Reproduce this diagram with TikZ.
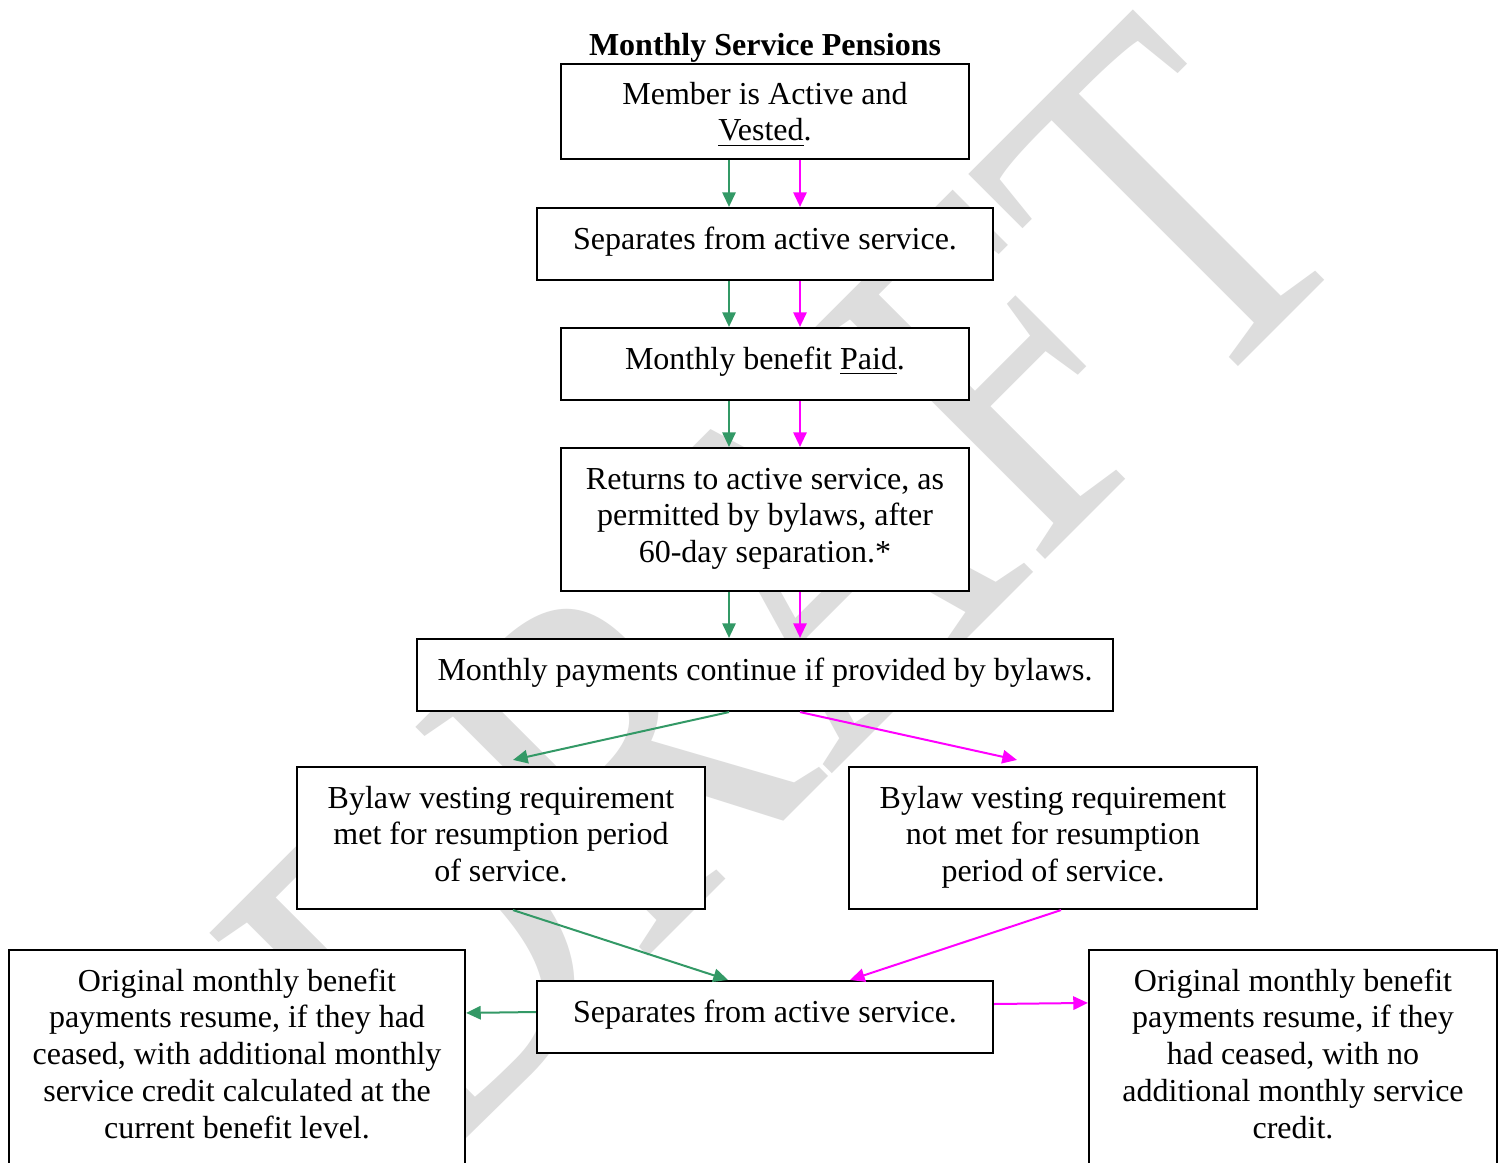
\documentclass[tikz,border=0pt]{standalone}
\usepackage{fontspec}
\setmainfont{Liberation Serif}
\usetikzlibrary{arrows.meta,calc}
\definecolor{sgreen}{RGB}{51,153,102}
\definecolor{mgnt}{RGB}{255,0,255}
\definecolor{wmgray}{RGB}{221,221,221}
\begin{document}
\begin{tikzpicture}[x=0.375pt,y=-0.375pt,
  box/.style={draw=black,fill=white,line width=0.8pt,inner sep=0pt},
  txt/.style={inner sep=0pt,align=center,font=\fontsize{12}{13.8}\selectfont},
  garr/.style={draw=sgreen,line width=0.75pt,-{Triangle[length=5.5pt,width=5pt,fill=sgreen]}},
  marr/.style={draw=mgnt,line width=0.75pt,-{Triangle[length=5.5pt,width=5pt,fill=mgnt]}},
  wmark/.style={text=wmgray,inner sep=0pt,font=\fontsize{187}{187}\selectfont,rotate=45}]
\useasboundingbox (0,0) rectangle (1504,1162);
\fill[white] (0,0) rectangle (1504,1162);
\node[wmark,anchor=base east] (wm) at (1369,236) {\scalebox{0.81}[1]{DRAFT}};

\node[txt,font=\fontsize{12}{13.8}\selectfont\bfseries,anchor=base] (title) at (765,56) {Monthly Service Pensions};

\node[box,minimum width=153pt,minimum height=35.6pt] (A) at (765,111.5) {};
\node[box,minimum width=171pt,minimum height=27pt] (B) at (765,244) {};
\node[box,minimum width=153pt,minimum height=27pt] (C) at (765,364) {};
\node[box,minimum width=153pt,minimum height=53.6pt] (D) at (765,519.5) {};
\node[box,minimum width=261pt,minimum height=27pt] (E) at (765,675) {};
\node[box,minimum width=153pt,minimum height=53.25pt] (F) at (501,838) {};
\node[box,minimum width=153pt,minimum height=53.25pt] (G) at (1053,838) {};
\node[box,minimum width=171pt,minimum height=27pt] (H) at (765,1017) {};
\node[box,minimum width=171pt,minimum height=81.75pt] (I) at (237,1059) {};
\node[box,minimum width=153pt,minimum height=81.75pt] (J) at (1293,1059) {};

\node[txt] (At) at (765,115.2) {\strut Member is Active and\\ \underline{Vested}.\strut};
\node[txt] (Bt) at (765,242) {\strut Separates from active service.};
\node[txt] (Ct) at (765,362) {\strut Monthly benefit \underline{Paid}.};
\node[txt] (Dt) at (765,518.6) {\strut Returns to active service, as\\ permitted by bylaws, after\\ 60-day separation.*\strut};
\node[txt] (Et) at (765,673) {\strut Monthly payments continue if provided by bylaws.};
\node[txt] (Ft) at (501,837.6) {\strut Bylaw vesting requirement\\ met for resumption period\\ of service.\strut};
\node[txt] (Gt) at (1053,837.6) {\strut Bylaw vesting requirement\\ not met for resumption\\ period of service.\strut};
\node[txt] (Ht) at (765,1015) {\strut Separates from active service.};
\node[txt] (It) at (237,1057.4) {\strut Original monthly benefit\\ payments resume, if they had\\ ceased, with additional monthly\\ service credit calculated at the\\ current benefit level.\strut};
\node[txt] (Jt) at (1293,1057.4) {\strut Original monthly benefit\\ payments resume, if they\\ had ceased, with no\\ additional monthly service\\ credit.\strut};

\draw[garr] ($(A.south)+(-36,0)$) -- ($(B.north)+(-36,0)$);
\draw[marr] ($(A.south)+(35,0)$) -- ($(B.north)+(35,0)$);
\draw[garr] ($(B.south)+(-36,0)$) -- ($(C.north)+(-36,0)$);
\draw[marr] ($(B.south)+(35,0)$) -- ($(C.north)+(35,0)$);
\draw[garr] ($(C.south)+(-36,0)$) -- ($(D.north)+(-36,0)$);
\draw[marr] ($(C.south)+(35,0)$) -- ($(D.north)+(35,0)$);
\draw[garr] ($(D.south)+(-36,0)$) -- ($(E.north)+(-36,0)$);
\draw[marr] ($(D.south)+(35,0)$) -- ($(E.north)+(35,0)$);
\draw[garr] ($(E.south)+(-36,0)$) -- ($(F.north)+(12,-6)$);
\draw[marr] ($(E.south)+(35,0)$) -- ($(G.north)+(-36,-6)$);
\draw[garr] ($(F.south)+(12,0)$) -- ($(H.north)+(-37,0)$);
\draw[marr] ($(G.south)+(8,0)$) -- ($(H.north)+(85,0)$);
\draw[garr] ($(H.west)+(0,-5)$) -- ($(I.north east)+(0,64)$);
\draw[marr] ($(H.east)+(0,-13)$) -- ($(J.north west)+(0,54)$);
\end{tikzpicture}
\end{document}
